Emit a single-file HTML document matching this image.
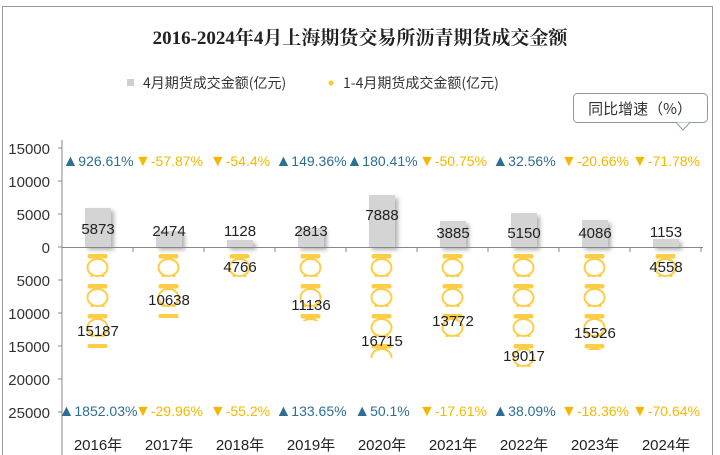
<!DOCTYPE html>
<html><head><meta charset="utf-8"><style>
html,body{margin:0;padding:0;background:#fff;}
svg{display:block;font-family:"Liberation Sans","Noto Sans CJK SC",sans-serif;}
.t{font-size:16px;}
</style></head><body>
<svg width="720" height="455" viewBox="0 0 720 455" xmlns="http://www.w3.org/2000/svg">
<defs>
<g id="pot">
<rect x="-10" y="0" width="20" height="4.5" rx="2" fill="#fdcd45"/>
<ellipse cx="0" cy="13.5" rx="10" ry="8.5" fill="#fff" stroke="#fdcd45" stroke-width="2"/>
<rect x="-7" y="21" width="3" height="2" fill="#fdcd45"/><rect x="4" y="21" width="3" height="2" fill="#fdcd45"/>
</g>
<filter id="sh" x="-30%" y="-30%" width="160%" height="160%"><feDropShadow dx="3" dy="3" stdDeviation="2" flood-color="#000" flood-opacity="0.3"/></filter>
</defs>
<rect x="2.5" y="6.5" width="710" height="460" fill="#fff" stroke="#9a9a9a" stroke-width="1"/>
<text x="360" y="44" text-anchor="middle" font-family="'Liberation Serif','Noto Serif CJK SC',serif" font-size="19" font-weight="bold" fill="#222">2016-2024年4月上海期货交易所沥青期货成交金额</text>
<rect x="127" y="79" width="7" height="7" fill="#cfcfcf"/>
<text x="143" y="88" font-size="14" fill="#333" font-family="'Noto Sans CJK SC',sans-serif">4月期货成交金额(亿元)</text>
<circle cx="331" cy="83" r="2.5" fill="#fdc630"/>
<text x="343" y="88" font-size="14" fill="#333" font-family="'Noto Sans CJK SC',sans-serif">1-4月期货成交金额(亿元)</text>
<rect x="573.5" y="93.5" width="134" height="29" rx="4" fill="#fff" stroke="#8899aa"/>
<path d="M676 122.5 L683 130 L690 122.5" fill="#fff" stroke="#8899aa"/>
<text x="640" y="114" text-anchor="middle" font-size="15" fill="#333" font-family="'Noto Sans CJK SC',sans-serif">同比增速（%）</text>
<g font-size="15" fill="#333" text-anchor="end">
<text x="50" y="154">15000</text><text x="50" y="187">10000</text><text x="50" y="220">5000</text><text x="50" y="253">0</text>
<text x="50" y="286">5000</text><text x="50" y="319">10000</text><text x="50" y="352">15000</text><text x="50" y="385">20000</text><text x="50" y="418">25000</text>
</g>
<g stroke="#888"><line x1="62" y1="140" x2="62" y2="455"/>
<line x1="58" y1="148" x2="62" y2="148"/><line x1="58" y1="181" x2="62" y2="181"/><line x1="58" y1="214" x2="62" y2="214"/><line x1="58" y1="247" x2="62" y2="247"/><line x1="58" y1="280" x2="62" y2="280"/><line x1="58" y1="313" x2="62" y2="313"/><line x1="58" y1="346" x2="62" y2="346"/><line x1="58" y1="379" x2="62" y2="379"/><line x1="58" y1="412" x2="62" y2="412"/>
</g>
<g fill="#d4d4d4" filter="url(#sh)">
<rect x="85" y="208" width="26" height="39"/>
<rect x="156" y="231" width="26" height="16"/>
<rect x="227" y="240" width="26" height="7"/>
<rect x="298" y="228" width="26" height="19"/>
<rect x="369" y="195" width="26" height="52"/>
<rect x="440" y="221" width="26" height="26"/>
<rect x="511" y="213" width="26" height="34"/>
<rect x="582" y="220" width="26" height="27"/>
<rect x="653" y="239" width="26" height="8"/>
</g>
<line x1="62" y1="247.5" x2="703" y2="247.5" stroke="#888"/>
<g stroke="#888"><line x1="133" y1="247" x2="133" y2="252"/><line x1="204" y1="247" x2="204" y2="252"/><line x1="275" y1="247" x2="275" y2="252"/><line x1="346" y1="247" x2="346" y2="252"/><line x1="417" y1="247" x2="417" y2="252"/><line x1="488" y1="247" x2="488" y2="252"/><line x1="559" y1="247" x2="559" y2="252"/><line x1="630" y1="247" x2="630" y2="252"/><line x1="701" y1="247" x2="701" y2="252"/></g>
<clipPath id="c0"><rect x="80" y="248" width="40" height="100"/></clipPath>
<clipPath id="c1"><rect x="150" y="248" width="40" height="70"/></clipPath>
<clipPath id="c2"><rect x="220" y="248" width="40" height="31"/></clipPath>
<clipPath id="c3"><rect x="290" y="248" width="40" height="73"/></clipPath>
<clipPath id="c4"><rect x="360" y="248" width="40" height="110"/></clipPath>
<clipPath id="c5"><rect x="430" y="248" width="40" height="91"/></clipPath>
<clipPath id="c6"><rect x="500" y="248" width="40" height="126"/></clipPath>
<clipPath id="c7"><rect x="570" y="248" width="40" height="102"/></clipPath>
<clipPath id="c8"><rect x="640" y="248" width="50" height="30"/></clipPath>
<g clip-path="url(#c0)"><use href="#pot" x="97.5" y="254"/><use href="#pot" x="97.5" y="284"/><use href="#pot" x="97.5" y="314"/><use href="#pot" x="97.5" y="344"/></g>
<g clip-path="url(#c1)"><use href="#pot" x="168.5" y="254"/><use href="#pot" x="168.5" y="284"/><use href="#pot" x="168.5" y="314"/></g>
<g clip-path="url(#c2)"><use href="#pot" x="239.5" y="254"/></g>
<g clip-path="url(#c3)"><use href="#pot" x="310.5" y="254"/><use href="#pot" x="310.5" y="284"/><use href="#pot" x="310.5" y="314"/></g>
<g clip-path="url(#c4)"><use href="#pot" x="381.5" y="254"/><use href="#pot" x="381.5" y="284"/><use href="#pot" x="381.5" y="314"/><use href="#pot" x="381.5" y="344"/></g>
<g clip-path="url(#c5)"><use href="#pot" x="452.5" y="254"/><use href="#pot" x="452.5" y="284"/><use href="#pot" x="452.5" y="314"/></g>
<g clip-path="url(#c6)"><use href="#pot" x="523.5" y="254"/><use href="#pot" x="523.5" y="284"/><use href="#pot" x="523.5" y="314"/><use href="#pot" x="523.5" y="344"/></g>
<g clip-path="url(#c7)"><use href="#pot" x="594.5" y="254"/><use href="#pot" x="594.5" y="284"/><use href="#pot" x="594.5" y="314"/><use href="#pot" x="594.5" y="344"/></g>
<g clip-path="url(#c8)"><use href="#pot" x="665.5" y="254"/></g>
<g font-size="15" fill="#222" text-anchor="middle">
<text x="98" y="234">5873</text><text x="169" y="236">2474</text><text x="240" y="236">1128</text><text x="311" y="236">2813</text><text x="382" y="220">7888</text><text x="453" y="238">3885</text><text x="524" y="238">5150</text><text x="595" y="238">4086</text><text x="666" y="237">1153</text>
<text x="98" y="336">15187</text><text x="169" y="305">10638</text><text x="240" y="272">4766</text><text x="311" y="310">11136</text><text x="382" y="346">16715</text><text x="453" y="326">13772</text><text x="524" y="361">19017</text><text x="595" y="338">15526</text><text x="666" y="272">4558</text>
</g>
<g font-size="14" text-anchor="middle">
<text x="98" y="166" fill="#2e6d94"><tspan class="t">▲</tspan>926.61%</text><text x="169" y="166" fill="#f5b800"><tspan class="t">▼</tspan>-57.87%</text><text x="240" y="166" fill="#f5b800"><tspan class="t">▼</tspan>-54.4%</text><text x="311" y="166" fill="#2e6d94"><tspan class="t">▲</tspan>149.36%</text><text x="382" y="166" fill="#2e6d94"><tspan class="t">▲</tspan>180.41%</text><text x="453" y="166" fill="#f5b800"><tspan class="t">▼</tspan>-50.75%</text><text x="524" y="166" fill="#2e6d94"><tspan class="t">▲</tspan>32.56%</text><text x="595" y="166" fill="#f5b800"><tspan class="t">▼</tspan>-20.66%</text><text x="666" y="166" fill="#f5b800"><tspan class="t">▼</tspan>-71.78%</text>
<text x="98" y="416" fill="#2e6d94"><tspan class="t">▲</tspan>1852.03%</text><text x="169" y="416" fill="#f5b800"><tspan class="t">▼</tspan>-29.96%</text><text x="240" y="416" fill="#f5b800"><tspan class="t">▼</tspan>-55.2%</text><text x="311" y="416" fill="#2e6d94"><tspan class="t">▲</tspan>133.65%</text><text x="382" y="416" fill="#2e6d94"><tspan class="t">▲</tspan>50.1%</text><text x="453" y="416" fill="#f5b800"><tspan class="t">▼</tspan>-17.61%</text><text x="524" y="416" fill="#2e6d94"><tspan class="t">▲</tspan>38.09%</text><text x="595" y="416" fill="#f5b800"><tspan class="t">▼</tspan>-18.36%</text><text x="666" y="416" fill="#f5b800"><tspan class="t">▼</tspan>-70.64%</text>
</g>
<g font-size="15" fill="#222" text-anchor="middle">
<text x="98" y="450">2016年</text><text x="169" y="450">2017年</text><text x="240" y="450">2018年</text><text x="311" y="450">2019年</text><text x="382" y="450">2020年</text><text x="453" y="450">2021年</text><text x="524" y="450">2022年</text><text x="595" y="450">2023年</text><text x="666" y="450">2024年</text>
</g>
</svg>
</body></html>
